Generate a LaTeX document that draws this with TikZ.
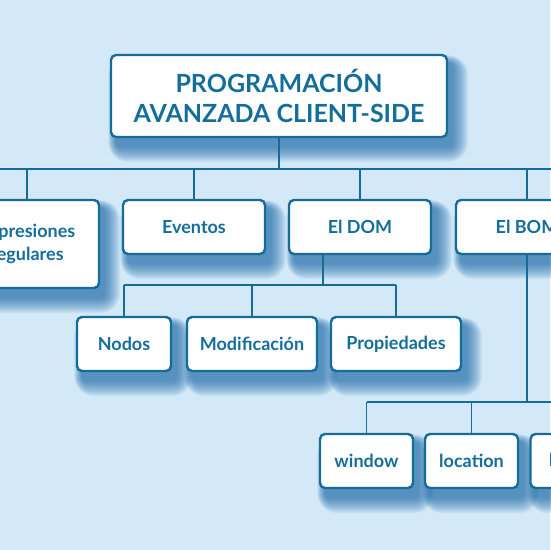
\documentclass[tikz,border=0pt]{standalone}
\usepackage{fontspec}
\setmainfont{Lato}
\definecolor{bgblue}{RGB}{211,233,248}
\definecolor{boxblue}{RGB}{22,108,152}
\definecolor{txtblue}{RGB}{20,110,155}
\definecolor{shadeblue}{RGB}{20,100,165}
\pgfdeclarelayer{shade}
\pgfsetlayers{shade,main}
\tikzset{
  box/.style={draw=boxblue, line width=2.4pt, fill=white, rounded corners=5pt,
    text=txtblue, font=\bfseries\fontsize{18}{23}\selectfont, align=center,
    inner sep=0pt, minimum height=54pt},
  shade/.style={fill=shadeblue, fill opacity=.06},
  link/.style={draw=boxblue, line width=1.1pt}
}
\begin{document}
\begin{tikzpicture}[x=1pt,y=-1pt]
\useasboundingbox (0,0) rectangle (550,550);
% boxes
\node[box, minimum width=336pt, minimum height=82pt, font=\bfseries\fontsize{25}{30}\selectfont] (prog) at (279,96) {PROGRAMACIÓN\\AVANZADA CLIENT-SIDE};
\node[box, minimum width=144pt, minimum height=88pt] (expr) at (27,244) {Expresiones\\regulares};
\node[box, minimum width=142pt] (evt) at (194,227) {Eventos};
\node[box, minimum width=142pt] (dom) at (360,227) {El DOM};
\node[box, minimum width=142pt] (bom) at (527,227) {El BOM};
\node[box, minimum width=94pt] (nodos) at (124,344) {Nodos};
\node[box, minimum width=130pt] (modif) at (252,344) {Modificación};
\node[box, minimum width=130pt] (props) at (396,344) {Propiedades};
\node[box, minimum width=93pt] (win) at (366.5,461) {window};
\node[box, minimum width=93pt] (loc) at (471.5,461) {location};
\node[box, minimum width=93pt] (hist) at (577,461) {history};
% soft shadows behind the boxes
\begin{pgfonlayer}{shade}
\fill[bgblue] (0,0) rectangle (550,550);
\foreach \n in {prog,expr,evt,dom,bom,nodos,modif,props,win,loc,hist}
  \foreach \r in {15,14,...,0}
    \fill[shade, rounded corners=5+\r] ([shift={(6-0.5*\r,9-0.5*\r)}]\n.north west) rectangle ([shift={(5+\r,9+\r)}]\n.south east);
\end{pgfonlayer}
% connectors
\coordinate (busl) at (-5,169);
\coordinate (busr) at (555,169);
\coordinate (dombus) at (0,285);
\coordinate (bombus) at (0,402);
\coordinate (domstem) at ([xshift=-37pt]dom.south);
\draw[link] (busl) -- (busr);
\draw[link] (prog.south) -- (prog.south |- busl);
\foreach \n in {expr,evt,dom,bom}
  \draw[link] (\n.north) -- (\n.north |- busl);
\draw[link] (domstem) -- (domstem |- dombus);
\draw[link] (nodos.north |- dombus) -- (props.north |- dombus);
\foreach \n in {nodos,modif,props}
  \draw[link] (\n.north) -- (\n.north |- dombus);
\draw[link] (bom.south) -- (bom.south |- bombus);
\draw[link] (win.north |- bombus) -- (hist.north |- bombus);
\foreach \n in {win,loc,hist}
  \draw[link] (\n.north) -- (\n.north |- bombus);
\end{tikzpicture}
\end{document}
